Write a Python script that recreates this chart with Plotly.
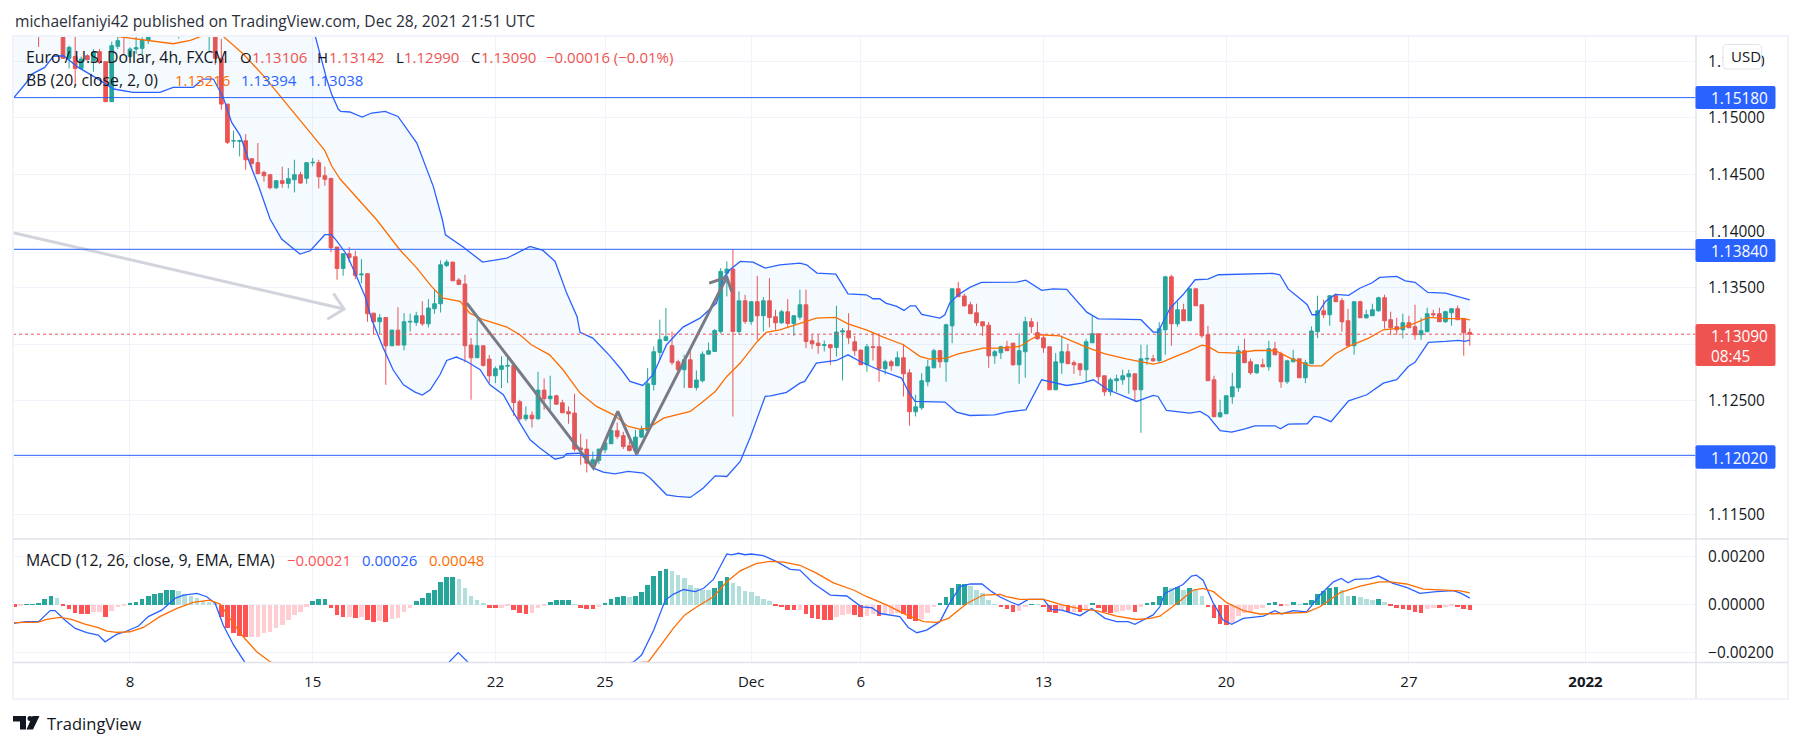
import plotly.graph_objects as go
from plotly.subplots import make_subplots

# bar numbers: 0 is the first 4h bar of Mon 8 Nov, weekends are squeezed out
bars = list(range(-19, 221))

opens = [
    1.15880, 1.15840, 1.15900, 1.15950, 1.15890, 1.15760, 1.15840, 1.15800, 1.15830, 1.15527,
    1.15544, 1.15438, 1.15550, 1.15506, 1.15586, 1.15497, 1.15144, 1.15633, 1.15790, 1.15544,
    1.15609, 1.15615, 1.15683, 1.15800, 1.15750, 1.15790, 1.15770, 1.15800, 1.15840, 1.15810,
    1.15850, 1.15830, 1.15790, 1.15860, 1.15527, 1.15123, 1.14796, 1.14793, 1.14799, 1.14640,
    1.14605, 1.14520, 1.14499, 1.14384, 1.14446, 1.14422, 1.14455, 1.14499, 1.14467, 1.14605,
    1.14605, 1.14490, 1.14467, 1.13860, 1.13671, 1.13801, 1.13774, 1.13615, 1.13624, 1.13276,
    1.13200, 1.13238, 1.12988, 1.13126, 1.12994, 1.13197, 1.13194, 1.13253, 1.13182, 1.13315,
    1.13359, 1.13698, 1.13727, 1.13568, 1.13533, 1.12994, 1.12882, 1.12988, 1.12870, 1.12723,
    1.12779, 1.12808, 1.12814, 1.12493, 1.12343, 1.12375, 1.12343, 1.12596, 1.12520, 1.12546,
    1.12484, 1.12405, 1.12393, 1.12084, 1.12075, 1.11945, 1.11975, 1.12069, 1.12122, 1.12237,
    1.12193, 1.12104, 1.12063, 1.12181, 1.12240, 1.12646, 1.12929, 1.13035, 1.12988, 1.12846,
    1.12776, 1.12864, 1.12620, 1.12679, 1.12914, 1.12938, 1.13114, 1.13630, 1.13665, 1.13114,
    1.13385, 1.13203, 1.13377, 1.13253, 1.13385, 1.13244, 1.13191, 1.13288, 1.13185, 1.13241,
    1.13350, 1.13032, 1.13011, 1.12991, 1.12997, 1.12973, 1.13109, 1.13120, 1.13023, 1.12950,
    1.12820, 1.12979, 1.12979, 1.12785, 1.12846, 1.12811, 1.12882, 1.12749, 1.12405, 1.12440,
    1.12670, 1.12793, 1.12944, 1.12846, 1.13164, 1.13491, 1.13427, 1.13350, 1.13279, 1.13200,
    1.13170, 1.12899, 1.12926, 1.12979, 1.13011, 1.12820, 1.12935, 1.13200, 1.13103, 1.13058,
    1.12979, 1.12599, 1.12838, 1.12935, 1.12838, 1.12829, 1.12776, 1.13014, 1.13094, 1.12723,
    1.12581, 1.12679, 1.12687, 1.12714, 1.12740, 1.12599, 1.12870, 1.12873, 1.12855, 1.13129,
    1.13597, 1.13182, 1.13306, 1.13209, 1.13491, 1.13350, 1.13085, 1.12687, 1.12361, 1.12387,
    1.12537, 1.12617, 1.12944, 1.12846, 1.12749, 1.12820, 1.12802, 1.12961, 1.12917, 1.12670,
    1.12846, 1.12873, 1.12705, 1.12829, 1.13112, 1.13297, 1.13262, 1.13430, 1.13386, 1.13209,
    1.12988, 1.13377, 1.13235, 1.13253, 1.13297, 1.13412, 1.13218, 1.13156, 1.13129, 1.13191,
    1.13156, 1.13085, 1.13112, 1.13271, 1.13271, 1.13200, 1.13280, 1.13315, 1.13227, 1.13106,
]
highs = [
    1.15960, 1.15930, 1.16010, 1.16030, 1.15950, 1.15880, 1.15920, 1.15880, 1.15900, 1.15639,
    1.15760, 1.15544, 1.15562, 1.15609, 1.15609, 1.15497, 1.15674, 1.15760, 1.15830, 1.15624,
    1.15740, 1.15760, 1.15780, 1.15850, 1.15840, 1.15860, 1.15850, 1.15880, 1.15890, 1.15870,
    1.15910, 1.15880, 1.15900, 1.15900, 1.15700, 1.15123, 1.14888, 1.14808, 1.14858, 1.14640,
    1.14779, 1.14534, 1.14499, 1.14446, 1.14570, 1.14558, 1.14631, 1.14525, 1.14605, 1.14646,
    1.14631, 1.14570, 1.14467, 1.13860, 1.13801, 1.13860, 1.13827, 1.13753, 1.13630, 1.13276,
    1.13268, 1.13238, 1.13129, 1.13329, 1.13276, 1.13271, 1.13288, 1.13382, 1.13400, 1.13483,
    1.13742, 1.13748, 1.13727, 1.13586, 1.13615, 1.13056, 1.13218, 1.12988, 1.12908, 1.12805,
    1.12894, 1.12894, 1.12814, 1.12511, 1.12452, 1.12408, 1.12758, 1.12699, 1.12723, 1.12555,
    1.12511, 1.12452, 1.12564, 1.12210, 1.12163, 1.12054, 1.12075, 1.12143, 1.12246, 1.12310,
    1.12228, 1.12143, 1.12246, 1.12281, 1.12790, 1.12982, 1.13218, 1.13321, 1.13114, 1.12864,
    1.12908, 1.12952, 1.12770, 1.12938, 1.13017, 1.13135, 1.13674, 1.13733, 1.13842, 1.13468,
    1.13438, 1.13377, 1.13606, 1.13418, 1.13586, 1.13306, 1.13306, 1.13400, 1.13253, 1.13483,
    1.13483, 1.13085, 1.13085, 1.13035, 1.13005, 1.13341, 1.13144, 1.13276, 1.13076, 1.12950,
    1.13005, 1.13106, 1.13085, 1.12864, 1.12864, 1.12938, 1.13005, 1.12782, 1.12555, 1.12746,
    1.12864, 1.12961, 1.12952, 1.13182, 1.13497, 1.13553, 1.13447, 1.13377, 1.13359, 1.13200,
    1.13197, 1.12952, 1.12988, 1.13032, 1.13011, 1.13100, 1.13244, 1.13232, 1.13200, 1.13085,
    1.12979, 1.12923, 1.13076, 1.13005, 1.12858, 1.12829, 1.13050, 1.13253, 1.13094, 1.12723,
    1.12705, 1.12732, 1.12776, 1.12776, 1.12740, 1.12997, 1.12997, 1.12908, 1.13197, 1.13606,
    1.13615, 1.13377, 1.13359, 1.13491, 1.13491, 1.13350, 1.13164, 1.12723, 1.12511, 1.12546,
    1.12749, 1.12988, 1.13050, 1.12873, 1.12820, 1.12873, 1.13032, 1.13023, 1.12935, 1.12864,
    1.12952, 1.12873, 1.12864, 1.13159, 1.13430, 1.13395, 1.13430, 1.13448, 1.13409, 1.13315,
    1.13377, 1.13386, 1.13306, 1.13359, 1.13421, 1.13439, 1.13289, 1.13235, 1.13271, 1.13253,
    1.13350, 1.13235, 1.13324, 1.13306, 1.13324, 1.13297, 1.13315, 1.13342, 1.13235, 1.13142,
]
lows = [
    1.15800, 1.15780, 1.15850, 1.15860, 1.15628, 1.15740, 1.15760, 1.15750, 1.15527, 1.15438,
    1.15300, 1.15438, 1.15506, 1.15409, 1.15477, 1.15144, 1.15144, 1.15609, 1.15565, 1.15536,
    1.15565, 1.15565, 1.15653, 1.15735, 1.15730, 1.15750, 1.15740, 1.15703, 1.15780, 1.15770,
    1.15800, 1.15760, 1.15580, 1.15470, 1.15073, 1.14770, 1.14735, 1.14661, 1.14543, 1.14549,
    1.14508, 1.14437, 1.14369, 1.14372, 1.14384, 1.14378, 1.14343, 1.14419, 1.14419, 1.14573,
    1.14378, 1.14402, 1.13813, 1.13571, 1.13606, 1.13724, 1.13577, 1.13541, 1.13200, 1.13088,
    1.13094, 1.12643, 1.12988, 1.12988, 1.12947, 1.13114, 1.13164, 1.13164, 1.13150, 1.13271,
    1.13282, 1.13683, 1.13562, 1.13527, 1.12841, 1.12511, 1.12882, 1.12805, 1.12664, 1.12658,
    1.12614, 1.12658, 1.12369, 1.12325, 1.12325, 1.12266, 1.12334, 1.12422, 1.12422, 1.12467,
    1.12393, 1.12299, 1.12054, 1.11936, 1.11869, 1.11907, 1.11945, 1.12040, 1.12122, 1.12163,
    1.12075, 1.12054, 1.12025, 1.12172, 1.12240, 1.12593, 1.12864, 1.13026, 1.12817, 1.12740,
    1.12614, 1.12614, 1.12593, 1.12664, 1.12908, 1.12932, 1.13094, 1.13424, 1.12363, 1.13085,
    1.13182, 1.13173, 1.13041, 1.13114, 1.13150, 1.13129, 1.13182, 1.13144, 1.13076, 1.13218,
    1.12967, 1.12961, 1.12917, 1.12938, 1.12820, 1.12894, 1.12682, 1.13005, 1.12899, 1.12820,
    1.12758, 1.12858, 1.12670, 1.12735, 1.12767, 1.12811, 1.12540, 1.12281, 1.12363, 1.12422,
    1.12629, 1.12793, 1.12793, 1.12670, 1.13011, 1.13421, 1.13332, 1.13271, 1.13164, 1.13076,
    1.12793, 1.12829, 1.12870, 1.12944, 1.12811, 1.12652, 1.12705, 1.13100, 1.13041, 1.12926,
    1.12599, 1.12599, 1.12740, 1.12829, 1.12740, 1.12723, 1.12670, 1.13014, 1.12652, 1.12546,
    1.12546, 1.12581, 1.12643, 1.12564, 1.12490, 1.12219, 1.12820, 1.12846, 1.12846, 1.12908,
    1.12988, 1.13156, 1.13209, 1.13209, 1.13341, 1.13058, 1.12679, 1.12361, 1.12352, 1.12387,
    1.12475, 1.12581, 1.12838, 1.12732, 1.12740, 1.12802, 1.12767, 1.12908, 1.12617, 1.12652,
    1.12846, 1.12705, 1.12658, 1.12829, 1.13056, 1.13233, 1.13165, 1.13377, 1.13112, 1.12988,
    1.12909, 1.13235, 1.13227, 1.13253, 1.13289, 1.13138, 1.13082, 1.13085, 1.13053, 1.13147,
    1.13041, 1.13041, 1.13112, 1.13235, 1.13200, 1.13191, 1.13165, 1.13218, 1.12900, 1.12990,
]
closes = [
    1.15840, 1.15900, 1.15950, 1.15890, 1.15760, 1.15840, 1.15800, 1.15830, 1.15527, 1.15624,
    1.15438, 1.15521, 1.15515, 1.15580, 1.15491, 1.15144, 1.15639, 1.15683, 1.15740, 1.15609,
    1.15621, 1.15692, 1.15727, 1.15750, 1.15790, 1.15770, 1.15800, 1.15840, 1.15810, 1.15850,
    1.15830, 1.15790, 1.15860, 1.15527, 1.15123, 1.14785, 1.14800, 1.14799, 1.14631, 1.14599,
    1.14508, 1.14490, 1.14384, 1.14446, 1.14422, 1.14464, 1.14499, 1.14425, 1.14605, 1.14608,
    1.14481, 1.14458, 1.13854, 1.13671, 1.13801, 1.13768, 1.13609, 1.13621, 1.13271, 1.13200,
    1.13235, 1.12988, 1.13126, 1.12994, 1.13200, 1.13203, 1.13253, 1.13182, 1.13321, 1.13359,
    1.13703, 1.13727, 1.13562, 1.13530, 1.12988, 1.12882, 1.12988, 1.12814, 1.12723, 1.12785,
    1.12811, 1.12814, 1.12487, 1.12343, 1.12375, 1.12343, 1.12596, 1.12520, 1.12543, 1.12472,
    1.12396, 1.12387, 1.12075, 1.12072, 1.11951, 1.11981, 1.12075, 1.12131, 1.12240, 1.12187,
    1.12098, 1.12063, 1.12181, 1.12249, 1.12652, 1.12935, 1.13041, 1.13067, 1.12841, 1.12776,
    1.12864, 1.12620, 1.12685, 1.12914, 1.12944, 1.13123, 1.13645, 1.13665, 1.13114, 1.13385,
    1.13203, 1.13377, 1.13253, 1.13385, 1.13238, 1.13191, 1.13288, 1.13185, 1.13253, 1.13350,
    1.13026, 1.13005, 1.12991, 1.12997, 1.12970, 1.13109, 1.13120, 1.13058, 1.12944, 1.12820,
    1.12979, 1.12973, 1.12785, 1.12846, 1.12811, 1.12882, 1.12740, 1.12405, 1.12449, 1.12679,
    1.12802, 1.12944, 1.12846, 1.13173, 1.13491, 1.13421, 1.13341, 1.13271, 1.13191, 1.13164,
    1.12899, 1.12935, 1.12979, 1.12944, 1.12820, 1.12944, 1.13200, 1.13156, 1.13050, 1.12970,
    1.12599, 1.12846, 1.12935, 1.12829, 1.12820, 1.12776, 1.13023, 1.13094, 1.12714, 1.12581,
    1.12687, 1.12696, 1.12723, 1.12740, 1.12599, 1.12873, 1.12876, 1.12855, 1.13138, 1.13597,
    1.13182, 1.13306, 1.13209, 1.13491, 1.13341, 1.13076, 1.12679, 1.12361, 1.12396, 1.12546,
    1.12626, 1.12944, 1.12838, 1.12749, 1.12820, 1.12802, 1.12961, 1.12908, 1.12670, 1.12855,
    1.12873, 1.12705, 1.12838, 1.13118, 1.13297, 1.13262, 1.13430, 1.13377, 1.13200, 1.12988,
    1.13377, 1.13235, 1.13262, 1.13306, 1.13412, 1.13209, 1.13147, 1.13129, 1.13191, 1.13147,
    1.13085, 1.13121, 1.13271, 1.13262, 1.13200, 1.13289, 1.13315, 1.13218, 1.13103, 1.13090,
]

bb_upper_x = [-19, -5, 15, 25, 30.4, 31.5, 32.3, 33.1, 34.2, 34.6, 36.1, 38.1, 39.7, 41.9, 44, 47.1, 49.8, 51.3, 51.8,
              54.7, 57.9, 61.9, 65.7, 67.8, 69.8, 71.7, 73.4, 73.9, 76, 78.8, 80.7, 82.1, 84.2, 85.9, 88.1, 90.8,
              93.6, 96.3, 97.4, 98.5, 100.2, 102.3, 104.3, 106.7, 110, 111.1, 112.8, 115.9, 117.9, 120.9, 122,
              123.1, 124.1, 125.9, 127.1, 128.1, 129, 130, 133, 133.8, 134.6, 136, 137.9, 139.8, 145.6, 147.1,
              149.7, 151.6, 153.8, 157.1, 159, 162, 166, 168, 168.8, 170.8, 172.9, 174.9, 177, 178.7, 181.7,
              187.7, 188.8, 190.2, 192.2, 193.3, 194.1, 194.9, 196.3, 197.9, 200.1, 202, 203.9, 205.2, 208,
              209.4, 211, 213.1, 216, 218.2, 220]
bb_upper = [1.16600, 1.16400, 1.16200, 1.15900, 1.15727, 1.15506, 1.15344, 1.15212, 1.15079, 1.15058, 1.15053, 1.15008,
            1.15044, 1.15059, 1.15014, 1.14779, 1.14396, 1.14101, 1.13968, 1.13860, 1.13727, 1.13762, 1.13865,
            1.13830, 1.13733, 1.13453, 1.13247, 1.13106, 1.13056, 1.12899, 1.12776, 1.12673, 1.12637, 1.12732,
            1.12997, 1.13153, 1.13232, 1.13365, 1.13586, 1.13659, 1.13733, 1.13727, 1.13674, 1.13703, 1.13718,
            1.13703, 1.13630, 1.13621, 1.13447, 1.13438, 1.13403, 1.13403, 1.13365, 1.13335, 1.13300, 1.13341,
            1.13341, 1.13265, 1.13232, 1.13262, 1.13365, 1.13438, 1.13503, 1.13547, 1.13550, 1.13568, 1.13477,
            1.13491, 1.13486, 1.13285, 1.13226, 1.13223, 1.13218, 1.13109, 1.13109, 1.13321, 1.13438, 1.13571,
            1.13577, 1.13615, 1.13621, 1.13627, 1.13615, 1.13488, 1.13400, 1.13350, 1.13262, 1.13262, 1.13380,
            1.13442, 1.13433, 1.13498, 1.13542, 1.13592, 1.13601, 1.13562, 1.13548, 1.13459, 1.13453, 1.13418,
            1.13394]

bb_basis_x = [-19, -10, -1.9, 2.2, 7.1, 9.9, 12, 15.3, 18.6, 21.9, 24.9, 27.4, 29.8, 32, 33.1, 34.5, 40.5, 44.3, 47.1,
              49.5, 51.4, 54.2, 55.8, 58, 61.9, 64, 65.9, 68.9, 71.1, 73.9, 76.6, 79.4, 81.8, 83.7, 85.1, 87.6,
              92, 94.1, 96.1, 98, 100.2, 103, 104.5, 106.7, 110, 112.7, 115.9, 117.9, 120.9, 123.7, 127, 129.7,
              131.3, 134.1, 136, 138.7, 140.1, 142.8, 146.1, 147.8, 149.4, 152.7, 154.3, 157.1, 160.1, 163.6,
              168, 169.4, 171.9, 173.8, 176, 177, 178.7, 181.7, 184.7, 188, 190.5, 192.1, 193.8, 195.7, 197.9,
              200.1, 203.4, 205.8, 208.6, 211, 213.2, 216.2, 218.9, 220]
bb_basis = [1.15950, 1.15850, 1.15718, 1.15692, 1.15656, 1.15686, 1.15727, 1.15721, 1.15565, 1.15374, 1.15182, 1.15020,
            1.14858, 1.14711, 1.14578, 1.14461, 1.14101, 1.13836, 1.13674, 1.13512, 1.13409, 1.13380, 1.13276,
            1.13218, 1.13153, 1.13085, 1.12997, 1.12908, 1.12776, 1.12570, 1.12452, 1.12378, 1.12275, 1.12252,
            1.12260, 1.12349, 1.12408, 1.12496, 1.12584, 1.12717, 1.12835, 1.13026, 1.13106, 1.13129, 1.13188,
            1.13232, 1.13238, 1.13182, 1.13129, 1.13064, 1.12997, 1.12894, 1.12870, 1.12879, 1.12917, 1.12946,
            1.12967, 1.12967, 1.12982, 1.13041, 1.13085, 1.13076, 1.13041, 1.12973, 1.12917, 1.12873, 1.12826,
            1.12841, 1.12899, 1.12938, 1.12994, 1.12982, 1.12929, 1.12923, 1.12946, 1.12946, 1.12879, 1.12849,
            1.12811, 1.12811, 1.12915, 1.12982, 1.13056, 1.13129, 1.13144, 1.13188, 1.13238, 1.13227, 1.13227,
            1.13216]

bb_lower_x = [-19, -17.2, -16.1, -14, -12.6, -10.9, -8.5, -5.7, -2.7, 0.5, 4.9, 7.1, 10.4, 12, 13.7, 15.3, 16.7, 18.1,
              19.7, 21.1, 23, 24.9, 27.9, 29.6, 32, 33.1, 34, 35.6, 37.2, 38.6, 39.7, 41.6, 43.2, 44.9, 46.8, 48,
              49.3, 50.9, 52, 53.6, 55.3, 57.5, 59.1, 61.3, 62.7, 64, 65.7, 67.3, 69.8, 71.2, 71.7, 73.9, 76.1,
              77.7, 79.6, 81.8, 84.3, 85.4, 88.1, 89.8, 92, 94.1, 96.1, 98, 100.2, 101.9, 104.3, 105.2, 107.8, 110,
              110.8, 112.7, 116, 117.9, 119.9, 122.9, 126.7, 127.8, 128.9, 133.8, 135.7, 137.9, 142, 143.9, 147.1,
              149.7, 152.1, 153.8, 156.3, 158.2, 160.6, 164.2, 165.3, 168, 168.8, 170.2, 174, 175.7, 177.1, 179,
              180.9, 183.1, 184.7, 188, 188.9, 190.2, 192.2, 193.3, 194.4, 195.4, 197.2, 200.1, 203.1, 205.8, 208,
              209.9, 211, 213.2, 216, 218.2, 219.2, 220]
bb_lower = [1.15185, 1.15300, 1.15388, 1.15447, 1.15544, 1.15550, 1.15447, 1.15359, 1.15256, 1.15226, 1.15226, 1.15271,
            1.15271, 1.15344, 1.15344, 1.15182, 1.14961, 1.14844, 1.14593, 1.14402, 1.14107, 1.13931, 1.13798,
            1.13827, 1.13969, 1.13969, 1.13910, 1.13792, 1.13600, 1.13424, 1.13218, 1.12967, 1.12776, 1.12643,
            1.12578, 1.12552, 1.12599, 1.12732, 1.12858, 1.12888, 1.12849, 1.12776, 1.12643, 1.12555, 1.12422,
            1.12305, 1.12157, 1.12084, 1.11986, 1.12004, 1.12034, 1.12040, 1.11907, 1.11871, 1.11857, 1.11878,
            1.11863, 1.11819, 1.11671, 1.11657, 1.11648, 1.11730, 1.11839, 1.11833, 1.11966, 1.12187, 1.12540,
            1.12546, 1.12576, 1.12658, 1.12673, 1.12835, 1.12858, 1.12908, 1.12849, 1.12776, 1.12702, 1.12584,
            1.12496, 1.12490, 1.12402, 1.12372, 1.12378, 1.12402, 1.12422, 1.12687, 1.12658, 1.12637, 1.12658,
            1.12687, 1.12599, 1.12525, 1.12496, 1.12549, 1.12540, 1.12416, 1.12393, 1.12408, 1.12363, 1.12237,
            1.12225, 1.12254, 1.12281, 1.12281, 1.12254, 1.12296, 1.12296, 1.12299, 1.12364, 1.12358, 1.12317,
            1.12502, 1.12555, 1.12658, 1.12688, 1.12805, 1.12841, 1.13018, 1.13026, 1.13035, 1.13026, 1.13038]

# MACD histogram, one value per bar
macd_hist = [
    -0.00008, -0.00004, 0.00001, 0.00002, 0.00004, 0.00024, 0.00038, 0.00028, -0.00006, -0.00018,
    -0.00035, -0.00039, -0.00040, -0.00031, -0.00030, -0.00051, -0.00025, -0.00010, -0.00003, 0.00007,
    0.00013, 0.00024, 0.00038, 0.00047, 0.00048, 0.00061, 0.00062, 0.00058, 0.00047, 0.00039,
    0.00028, 0.00018, 0.00011, 0.00001, -0.00051, -0.00097, -0.00118, -0.00129, -0.00134, -0.00133,
    -0.00132, -0.00118, -0.00114, -0.00097, -0.00083, -0.00061, -0.00042, -0.00031, -0.00008, 0.00017,
    0.00024, 0.00025, -0.00014, -0.00044, -0.00051, -0.00050, -0.00053, -0.00051, -0.00064, -0.00072,
    -0.00069, -0.00072, -0.00060, -0.00053, -0.00031, -0.00011, 0.00017, 0.00028, 0.00049, 0.00061,
    0.00094, 0.00115, 0.00116, 0.00108, 0.00069, 0.00036, 0.00022, 0.00006, -0.00014, -0.00015,
    -0.00011, -0.00005, -0.00022, -0.00035, -0.00039, -0.00035, -0.00014, -0.00003, 0.00011, 0.00019,
    0.00020, 0.00021, 0.00003, -0.00011, -0.00018, -0.00019, -0.00010, 0.00007, 0.00024, 0.00032,
    0.00036, 0.00031, 0.00039, 0.00053, 0.00081, 0.00119, 0.00143, 0.00151, 0.00140, 0.00124,
    0.00111, 0.00082, 0.00069, 0.00064, 0.00061, 0.00069, 0.00101, 0.00118, 0.00090, 0.00079,
    0.00057, 0.00053, 0.00036, 0.00026, 0.00015, -0.00006, -0.00010, -0.00022, -0.00023, -0.00022,
    -0.00039, -0.00053, -0.00060, -0.00061, -0.00064, -0.00051, -0.00044, -0.00039, -0.00044, -0.00051,
    -0.00047, -0.00039, -0.00047, -0.00039, -0.00038, -0.00035, -0.00039, -0.00060, -0.00068, -0.00060,
    -0.00035, -0.00010, 0.00007, 0.00032, 0.00069, 0.00086, 0.00087, 0.00078, 0.00061, 0.00051,
    0.00022, 0.00003, -0.00010, -0.00018, -0.00031, -0.00026, -0.00010, 0.00001, 0.00001, -0.00010,
    -0.00031, -0.00032, -0.00022, -0.00031, -0.00030, -0.00031, -0.00022, 0.00006, -0.00014, -0.00031,
    -0.00032, -0.00031, -0.00026, -0.00022, -0.00028, -0.00008, 0.00006, 0.00014, 0.00035, 0.00076,
    0.00072, 0.00073, 0.00064, 0.00072, 0.00060, 0.00039, -0.00010, -0.00056, -0.00081, -0.00085,
    -0.00076, -0.00047, -0.00035, -0.00031, -0.00018, -0.00014, 0.00006, 0.00010, -0.00006, -0.00003,
    0.00010, 0.00001, 0.00006, 0.00022, 0.00047, 0.00056, 0.00072, 0.00073, 0.00060, 0.00036,
    0.00039, 0.00031, 0.00026, 0.00022, 0.00026, 0.00014, -0.00006, -0.00014, -0.00018, -0.00022,
    -0.00031, -0.00032, -0.00018, -0.00014, -0.00015, -0.00010, -0.00006, -0.00010, -0.00018, -0.00021,
]

macd_x = [-19.2, -17, -15, -13.1, -12.3, -10.7, -9, -7.1, -5.2, -4.1, -2.2, -0.8, 1.4, 3, 5.2, 7.4, 8.8, 11, 12.6, 14,
          15.3, 17, 18.9, 22, 30, 38, 46, 52.3, 53.9, 55.6, 60, 66, 74, 82.7, 84, 86, 87.9, 89.2, 90.9, 92.8, 94.2,
          95.8, 98, 98.8, 99.9, 101, 102, 104, 106.2, 108.4, 110, 112.2, 115, 117.7, 120.1, 121.8, 123.2, 126.4,
          127.8, 129.2, 130.8, 133, 134.4, 136.3, 138, 139.9, 141.5, 142.8, 144.5, 145.9, 147.5, 150, 151.3, 153,
          156, 157.9, 160.1, 162, 163.9, 165, 168, 169.1, 169.9, 172.9, 174.3, 175.1, 176.2, 177.9, 179.5, 180.9,
          182.8, 186.1, 188, 189.1, 191, 193.2, 195.4, 197.6, 198.9, 200, 201.1, 203.6, 205, 207.4, 209.6, 211.8,
          214.5, 217.3, 218.6, 220]
macd_line = [-0.00079, -0.00072, -0.00072, -0.00026, -0.00026, -0.00065, -0.00100, -0.00118, -0.00128, -0.00156,
             -0.00125, -0.00114, -0.00090, -0.00051, -0.00024, 0.00025, 0.00039, 0.00046, 0.00032, 0.00004,
             -0.00086, -0.00169, -0.00243, -0.00300, -0.00345, -0.00320, -0.00280, -0.00243, -0.00201, -0.00243,
             -0.00290, -0.00300, -0.00290, -0.00240, -0.00211, -0.00107, 0.00018, 0.00042, 0.00062, 0.00053,
             0.00067, 0.00104, 0.00210, 0.00206, 0.00213, 0.00207, 0.00210, 0.00203, 0.00178, 0.00146, 0.00143,
             0.00088, 0.00039, 0.00035, -0.00010, -0.00014, -0.00038, -0.00051, -0.00096, -0.00118, -0.00107,
             -0.00072, -0.00003, 0.00074, 0.00085, 0.00085, 0.00053, 0.00032, 0.00011, -0.00003, 0.00021, 0.00021,
             -0.00021, -0.00024, -0.00047, -0.00017, -0.00058, -0.00072, -0.00072, -0.00083, -0.00044, -0.00010,
             0.00046, 0.00083, 0.00118, 0.00122, 0.00101, 0.00004, -0.00065, -0.00083, -0.00058, -0.00049,
             -0.00026, -0.00040, -0.00026, -0.00031, 0.00039, 0.00094, 0.00108, 0.00090, 0.00104, 0.00107, 0.00118,
             0.00088, 0.00071, 0.00046, 0.00053, 0.00057, 0.00046, 0.00026]

signal_x = [-19.2, -15, -13.7, -11.5, -9.6, -7.4, -5.2, -3.8, -2.2, 0, 2.2, 4.9, 7.7, 10.4, 13.1, 14.8, 16.4, 18.6, 20.8,
            23, 30, 40, 50, 60, 72, 85.1, 87, 89.2, 91.1, 93.1, 95.8, 98, 100.2, 102.9, 105.1, 107.3, 110, 112.8,
            115.5, 118.8, 121, 124.3, 127.5, 130.3, 132.5, 134.4, 137.4, 140.1, 142.9, 143.9, 146.1, 150, 153.2,
            156.5, 158.7, 162, 165.3, 167.5, 169.1, 171.9, 174.6, 176.2, 177.9, 180.1, 182.8, 185.5, 188.8, 193.2,
            195.4, 198.7, 202, 205.2, 206.9, 209.6, 212.4, 215.1, 218.4, 220]
signal_line = [-0.00076, -0.00074, -0.00062, -0.00054, -0.00062, -0.00082, -0.00097, -0.00111, -0.00117, -0.00114,
               -0.00096, -0.00051, -0.00017, 0.00008, 0.00018, 0.00001, -0.00058, -0.00135, -0.00197, -0.00239,
               -0.00300, -0.00315, -0.00300, -0.00280, -0.00265, -0.00240, -0.00176, -0.00100, -0.00044, -0.00010,
               0.00032, 0.00094, 0.00140, 0.00171, 0.00179, 0.00176, 0.00163, 0.00129, 0.00090, 0.00060, 0.00032,
               -0.00003, -0.00044, -0.00072, -0.00075, -0.00058, 0.00004, 0.00039, 0.00042, 0.00032, 0.00021,
               0.00021, -0.00003, -0.00021, -0.00026, -0.00049, -0.00063, -0.00058, -0.00049, 0.00004, 0.00060,
               0.00067, 0.00053, 0.00007, -0.00026, -0.00040, -0.00038, -0.00033, -0.00010, 0.00049, 0.00076,
               0.00094, 0.00094, 0.00085, 0.00064, 0.00060, 0.00056, 0.00048]

# lines the author drew on the chart
arrow_x = [-19.2, 35.14]
arrow_y = [1.13987, 1.13313]
arrow_head_x = [33.4, 35.14, 32.4]
arrow_head_y = [1.13451, 1.13313, 1.13222]
zigzag_x = [55.3, 76.1, 80.1, 83.2, 98]
zigzag_y = [1.13365, 1.11907, 1.12408, 1.12031, 1.13594]
zigzag_head_x = [95.1, 98, 98.8]
zigzag_head_y = [1.13541, 1.13594, 1.13468]

levels = [1.15180, 1.13840, 1.12020]
last_price = 1.13090

price_ticks = [1.155, 1.15, 1.145, 1.14, 1.135, 1.13, 1.125, 1.12, 1.115]
macd_ticks = [0.002, 0, -0.002]
macd_tick_text = ["0.00200", "0.00000", "\u22120.00200"]
time_ticks = [0, 30, 60, 78, 102, 120, 150, 180, 210, 239]
time_tick_text = ["8", "15", "22", "25", "Dec", "6", "13", "20", "27", "<b>2022</b>"]

W = 1802
H = 746
FONT = "Open Sans"
INK = "#131722"
GRID = "#f0f3fa"
BORDER = "#e0e3eb"
BLUE = "#2962ff"
ORANGE = "#ff6d00"
RED = "#ef5350"
GREEN = "#26a69a"


def px(x):
    return x / W


def py(y):
    return 1 - y / H


def hist_colors(values):
    colors = []
    prev = 0
    for v in values:
        if v >= 0:
            colors.append(GREEN if v > prev else "#b2dfdb")
        else:
            colors.append("#ff5252" if v < prev else "#ffcdd2")
        prev = v
    return colors


def round_box(x0, y0, x1, y1, r):
    pts = [(x0 + r, y0), (x1 - r, y0), (x1, y0), (x1, y0 + r), (x1, y1 - r), (x1, y1), (x1 - r, y1), (x0 + r, y1),
           (x0, y1), (x0, y1 - r), (x0, y0 + r), (x0, y0), (x0 + r, y0)]
    p = [(px(a), py(b)) for a, b in pts]
    return ("M %f %f L %f %f Q %f %f %f %f L %f %f Q %f %f %f %f L %f %f Q %f %f %f %f L %f %f Q %f %f %f %f Z"
            % tuple(v for q in p for v in q))


fig = make_subplots(rows=2, cols=1, shared_xaxes=True)

fig.add_trace(go.Scatter(x=bb_upper_x, y=bb_upper, mode="lines", line=dict(color=BLUE, width=1.3)), row=1, col=1)
fig.add_trace(go.Scatter(x=bb_lower_x, y=bb_lower, mode="lines", line=dict(color=BLUE, width=1.3),
                         fill="tonexty", fillcolor="rgba(33,150,243,0.05)"), row=1, col=1)
fig.add_trace(go.Candlestick(x=bars, open=opens, high=highs, low=lows, close=closes, whiskerwidth=0,
                             increasing=dict(line=dict(color=GREEN, width=1), fillcolor=GREEN),
                             decreasing=dict(line=dict(color=RED, width=1), fillcolor=RED)), row=1, col=1)
fig.add_trace(go.Scatter(x=bb_basis_x, y=bb_basis, mode="lines", line=dict(color=ORANGE, width=1.3)), row=1, col=1)

for xs, ys in [(arrow_x, arrow_y), (arrow_head_x, arrow_head_y)]:
    fig.add_trace(go.Scatter(x=xs, y=ys, mode="lines", line=dict(color="#d1d4dc", width=3)), row=1, col=1)
for xs, ys in [(zigzag_x, zigzag_y), (zigzag_head_x, zigzag_head_y)]:
    fig.add_trace(go.Scatter(x=xs, y=ys, mode="lines", line=dict(color="#787b86", width=3)), row=1, col=1)

fig.add_trace(go.Bar(x=bars, y=macd_hist, marker=dict(color=hist_colors(macd_hist), line=dict(width=0)), width=0.76),
              row=2, col=1)
fig.add_trace(go.Scatter(x=macd_x, y=macd_line, mode="lines", line=dict(color=BLUE, width=1.3)), row=2, col=1)
fig.add_trace(go.Scatter(x=signal_x, y=signal_line, mode="lines", line=dict(color=ORANGE, width=1.3)), row=2, col=1)

x_range = [-19.21, 257.14]
fig.update_xaxes(range=x_range, domain=[px(13), px(1696)], showgrid=True, gridcolor=GRID, gridwidth=1,
                 tickmode="array", tickvals=time_ticks, ticktext=time_tick_text, zeroline=False,
                 rangeslider=dict(visible=False), showline=False)
fig.update_xaxes(showticklabels=False, ticks="", row=1, col=1)
fig.update_xaxes(ticks="outside", ticklen=6, tickcolor="rgba(0,0,0,0)", tickfont=dict(family=FONT, size=15, color=INK),
                 row=2, col=1)
fig.update_yaxes(side="right", showgrid=True, gridcolor=GRID, gridwidth=1, zeroline=False, showline=False,
                 ticks="outside", ticklen=8, tickcolor="rgba(0,0,0,0)", tickfont=dict(family=FONT, size=15.4, color=INK))
fig.update_yaxes(domain=[py(538.7), py(36)], range=[1.112835, 1.157243], tickvals=price_ticks, tickformat=".5f",
                 row=1, col=1)
fig.update_yaxes(domain=[py(662.3), py(539.5)], range=[-0.002413, 0.002704], tickvals=macd_ticks,
                 ticktext=macd_tick_text, row=2, col=1)

shapes = []
for level in levels:
    shapes.append(dict(type="line", xref="x", yref="y", x0=x_range[0], x1=x_range[1], y0=level, y1=level,
                       line=dict(color=BLUE, width=1)))
shapes.append(dict(type="line", xref="x", yref="y", x0=x_range[0], x1=x_range[1], y0=last_price, y1=last_price,
                   line=dict(color=RED, width=1, dash="dot")))
# frame and pane separators
shapes.append(dict(type="rect", xref="paper", yref="paper", x0=px(13), x1=px(1788), y0=py(699), y1=py(36),
                   line=dict(color=GRID, width=2)))
shapes.append(dict(type="line", xref="paper", yref="paper", x0=px(13), x1=px(1788), y0=py(539), y1=py(539),
                   line=dict(color=BORDER, width=1.5)))
shapes.append(dict(type="line", xref="paper", yref="paper", x0=px(13), x1=px(1788), y0=py(662.5), y1=py(662.5),
                   line=dict(color=BORDER, width=1.5)))
shapes.append(dict(type="line", xref="paper", yref="paper", x0=px(1696), x1=px(1696), y0=py(699), y1=py(36),
                   line=dict(color=BORDER, width=1.5)))
# price tags on the axis
for top, bottom, colour in [(86, 109, BLUE), (239, 262, BLUE), (445.3, 468.7, BLUE), (324, 366, RED)]:
    shapes.append(dict(type="path", xref="paper", yref="paper", path=round_box(1695.5, top, 1775.5, bottom, 2),
                       fillcolor=colour, line=dict(width=0)))
shapes.append(dict(type="path", xref="paper", yref="paper", path=round_box(1723, 44.5, 1761.5, 69, 4),
                   fillcolor="#ffffff", line=dict(color=BORDER, width=1)))
# TradingView logo
logo = ("M %f %f L %f %f L %f %f L %f %f L %f %f L %f %f Z" % (
    px(13), py(716), px(26), py(716), px(26), py(729.5), px(20), py(729.5), px(20), py(721.5), px(13), py(721.5)))
shapes.append(dict(type="path", xref="paper", yref="paper", path=logo, fillcolor=INK, line=dict(width=0)))
slant = "M %f %f L %f %f L %f %f L %f %f Z" % (
    px(32.5), py(716), px(39.5), py(716), px(33), py(729.5), px(26.5), py(729.5))
shapes.append(dict(type="path", xref="paper", yref="paper", path=slant, fillcolor=INK, line=dict(width=0)))
shapes.append(dict(type="circle", xref="paper", yref="paper", x0=px(27.5), x1=px(32.5), y0=py(721), y1=py(716),
                   fillcolor=INK, line=dict(width=0)))

annotations = []


def label(x, y, text, color=INK, size=15):
    annotations.append(dict(x=px(x), y=py(y), xref="paper", yref="paper", text=text, showarrow=False,
                            xanchor="left", yanchor="middle", font=dict(family=FONT, size=size, color=color)))


label(13, 20.7, "michaelfaniyi42 published on TradingView.com, Dec 28, 2021 21:51 UTC", color="#2a2e39", size=15.6)
label(24, 56.7, "Euro / U.S. Dollar, 4h, FXCM", size=15.8)
label(238, 56.7, "O")
label(250, 56.7, "1.13106", color=RED)
label(315, 56.7, "H")
label(327, 56.7, "1.13142", color=RED)
label(394, 56.7, "L")
label(402, 56.7, "1.12990", color=RED)
label(469, 56.7, "C")
label(479, 56.7, "1.13090", color=RED)
label(544, 56.7, "\u22120.00016 (\u22120.01%)", color=RED)
label(24, 79.5, "BB (20, close, 2, 0)", size=15.8)
label(173, 79.5, "1.13216", color=ORANGE)
label(239, 79.5, "1.13394", color=BLUE)
label(306, 79.5, "1.13038", color=BLUE)
label(24, 560, "MACD (12, 26, close, 9, EMA, EMA)", size=15.8)
label(285, 560, "\u22120.00021", color="#ff5252")
label(360, 560, "0.00026", color=BLUE)
label(427, 560, "0.00048", color=ORANGE)
label(44.5, 723, "TradingView", size=16.5)

label(1709, 98.7, "1.15180", color="#ffffff", size=15.4)
label(1709, 251, "1.13840", color="#ffffff", size=15.4)
label(1709, 458, "1.12020", color="#ffffff", size=15.4)
label(1709, 336.7, "1.13090", color="#ffffff", size=15.4)
label(1709, 356, "08:45", color="#ffffff", size=15.4)
label(1729, 56.5, "USD", size=15)

fig.update_layout(width=W, height=H, margin=dict(l=0, r=0, t=0, b=0), showlegend=False, plot_bgcolor="#ffffff",
                  paper_bgcolor="#ffffff", boxgap=0.4, boxgroupgap=0, bargap=0, shapes=shapes,
                  annotations=annotations, hovermode=False)

# the page's default 8px body margin would push the chart off its pixel grid
fig.write_html("out.html", config={"displayModeBar": False}, post_script="document.body.style.margin = '0';")
